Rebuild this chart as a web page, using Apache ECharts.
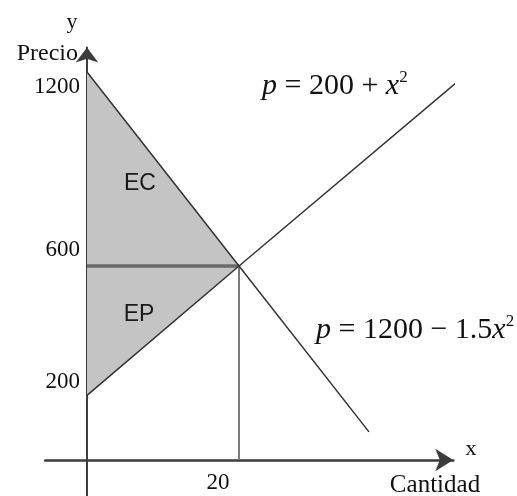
<!DOCTYPE html>
<html>
<head>
<meta charset="utf-8">
<script src="https://cdn.jsdelivr.net/npm/echarts@6/dist/echarts.min.js"></script>
<style>
  html, body { margin: 0; padding: 0; background: #fff; }
  #chart { width: 517px; height: 496px; }
</style>
</head>
<body>
<div id="chart"></div>
<script>
// ---- data (schematic straight-line curves) ----
const supplyQ = [0, 20, 48.5];
const supplyP = [200, 600, 1165];
const demandQ = [0, 20, 37.1];
const demandP = [1200, 600, 87];
const eqQ = 20;
const eqP = 600;
const yTicks = [200, 600, 1200];
const xTicks = [20];

const supplyData = supplyQ.map((q, i) => [q, supplyP[i]]);
const demandData = demandQ.map((q, i) => [q, demandP[i]]);
const ecPolygon = [[0, demandP[0]], [eqQ, eqP], [0, eqP]];
const epPolygon = [[0, eqP], [eqQ, eqP], [0, supplyP[0]]];

const PX_X = 7.6;        // px per unit of quantity
const PX_Y = 0.323333;   // px per unit of price
const xMin = -5.5, xMax = 48.2, yMin = -110, yMax = 1276;
const originX = 87, originY = 460;
const gridLeft = originX + xMin * PX_X;
const gridBottomPx = originY - yMin * PX_Y;

const chart = echarts.init(document.getElementById('chart'), null, { renderer: 'canvas' });

function polySeries(name, pts) {
  return {
    type: 'custom',
    name: name,
    data: pts,
    z: 1,
    silent: true,
    renderItem: function (params, api) {
      if (params.dataIndex !== 0) return;
      const points = pts.map(p => api.coord(p));
      return {
        type: 'polygon',
        shape: { points: points },
        style: { fill: '#c4c4c4' }
      };
    }
  };
}

const serif = '"Liberation Serif", "DejaVu Serif", serif';
const sans = '"Liberation Sans", Arial, sans-serif';

const option = {
  animation: false,
  backgroundColor: '#ffffff',
  grid: {
    left: gridLeft,
    top: originY - yMax * PX_Y,
    width: (xMax - xMin) * PX_X,
    height: (yMax - yMin) * PX_Y,
    containLabel: false,
    outerBoundsMode: 'none'
  },
  xAxis: {
    type: 'value',
    min: xMin,
    max: xMax,
    splitLine: { show: false },
    axisTick: { show: false },
    axisLine: {
      onZero: true,
      symbol: ['none', 'arrow'],
      symbolSize: [17, 18],
      lineStyle: { color: '#3c3c3c', width: 2.5 }
    },
    axisLabel: {
      customValues: xTicks,
      margin: (originY + 11) - gridBottomPx,
      fontFamily: serif,
      fontSize: 23,
      color: '#111',
      formatter: v => '{l|' + v + '}',
      rich: { l: { padding: [0, 42, 0, 0] } }
    }
  },
  yAxis: {
    type: 'value',
    min: yMin,
    max: yMax,
    splitLine: { show: false },
    axisTick: { show: false },
    axisLine: {
      onZero: true,
      symbol: ['none', 'arrow'],
      symbolSize: [17, 15],
      lineStyle: { color: '#3c3c3c', width: 2 }
    },
    axisLabel: {
      customValues: yTicks,
      margin: gridLeft - (originX - 7),
      fontFamily: serif,
      fontSize: 23,
      color: '#111',
      formatter: function (v) {
        if (v === 1200) return '{lo|' + v + '}';
        if (v === 600) return '{hi|' + v + '}';
        return '{hi2|' + v + '}';
      },
      rich: {
        lo: { padding: [30, 0, 0, 0] },
        hi: { padding: [0, 0, 32, 0] },
        hi2: { padding: [0, 0, 26, 0] }
      }
    }
  },
  series: [
    polySeries('EC', ecPolygon),
    polySeries('EP', epPolygon),
    {
      type: 'line', name: 'precio equilibrio',
      data: [[0, eqP], [eqQ, eqP]],
      symbol: 'none', z: 3,
      lineStyle: { color: '#6a6a6a', width: 3.5 }
    },
    {
      type: 'line', name: 'cantidad equilibrio',
      data: [[eqQ, 0], [eqQ, eqP]],
      symbol: 'none', z: 3,
      lineStyle: { color: '#7a7a7a', width: 2 }
    },
    {
      type: 'line', name: 'oferta',
      data: supplyData,
      symbol: 'none', z: 4,
      lineStyle: { color: '#333', width: 1.5 }
    },
    {
      type: 'line', name: 'demanda',
      data: demandData,
      symbol: 'none', z: 4,
      lineStyle: { color: '#333', width: 1.5 }
    }
  ],
  graphic: [
    { type: 'text', x: 72, y: 22, style: { text: 'y', font: '22px ' + serif, fill: '#111', align: 'center', verticalAlign: 'middle' } },
    { type: 'text', x: 78, y: 54, style: { text: 'Precio', font: '24px ' + serif, fill: '#111', align: 'right', verticalAlign: 'middle' } },
    { type: 'text', x: 471, y: 449, style: { text: 'x', font: '22px ' + serif, fill: '#111', align: 'center', verticalAlign: 'middle' } },
    { type: 'text', x: 435, y: 485, style: { text: 'Cantidad', font: '25px ' + serif, fill: '#111', align: 'center', verticalAlign: 'middle' } },
    { type: 'text', x: 140, y: 184, z: 10, style: { text: 'EC', font: '23px ' + sans, fill: '#1a1a1a', align: 'center', verticalAlign: 'middle' } },
    { type: 'text', x: 139, y: 315, z: 10, style: { text: 'EP', font: '23px ' + sans, fill: '#1a1a1a', align: 'center', verticalAlign: 'middle' } },
    {
      type: 'text', x: 262, y: 86,
      style: {
        text: '{i|p} = 200 + {i|x}{s|2}',
        font: '30px ' + serif, fill: '#111', align: 'left', verticalAlign: 'middle',
        rich: {
          i: { fontStyle: 'italic', fontSize: 30, fontFamily: serif },
          s: { fontSize: 17, fontFamily: serif, padding: [0, 0, 17, 0] }
        }
      }
    },
    {
      type: 'text', x: 316, y: 330,
      style: {
        text: '{i|p} = 1200 \u2212 1.5{i|x}{s|2}',
        font: '30px ' + serif, fill: '#111', align: 'left', verticalAlign: 'middle',
        rich: {
          i: { fontStyle: 'italic', fontSize: 30, fontFamily: serif },
          s: { fontSize: 17, fontFamily: serif, padding: [0, 0, 17, 0] }
        }
      }
    }
  ]
};

chart.setOption(option);
</script>
</body>
</html>
